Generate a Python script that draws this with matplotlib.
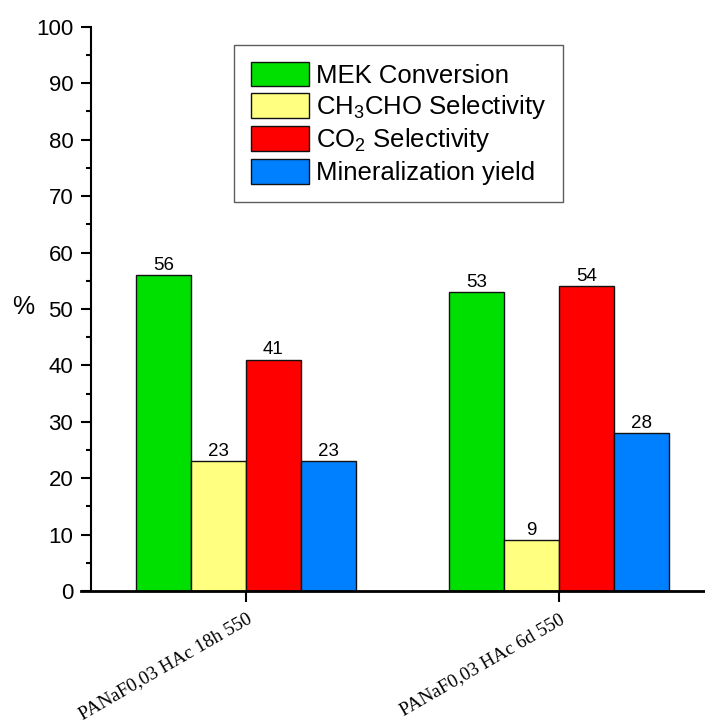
import matplotlib
matplotlib.use("Agg")
import matplotlib.pyplot as plt
import numpy as np

samples = ["PANaF0,03 HAc 18h 550", "PANaF0,03 HAc 6d 550"]
series = ["MEK Conversion", "CH$_3$CHO Selectivity", "CO$_2$ Selectivity", "Mineralization yield"]
mek_conversion = [56, 53]
ch3cho_selectivity = [23, 9]
co2_selectivity = [41, 54]
mineralization_yield = [23, 28]
colors = ["#00E000", "#FFFF80", "#FF0000", "#0080FF"]

plt.rcParams["font.family"] = ["Liberation Sans", "DejaVu Sans"]
plt.rcParams["mathtext.default"] = "regular"

fig = plt.figure(figsize=(7.05, 7.26), dpi=100)
ax = fig.add_axes([0.129, 0.186, 0.871, 0.777])

x = np.arange(1, len(samples) + 1)
width = 0.175
values = [mek_conversion, ch3cho_selectivity, co2_selectivity, mineralization_yield]
for i, (name, vals, col) in enumerate(zip(series, values, colors)):
    pos = x + (i - 1.5) * width
    bars = ax.bar(pos, vals, width, color=col, edgecolor="#111111", linewidth=1.0, label=name)
    for b, v in zip(bars, vals):
        ax.text(b.get_x() + b.get_width() / 2, v + 0.25, f"{v}", ha="center", va="bottom", fontsize=13.5)

ax.set_xlim(0.505, 2.466)
ax.set_ylim(0, 100)
ax.set_yticks(np.arange(0, 101, 10))
ax.set_yticks(np.arange(5, 100, 10), minor=True)
ax.tick_params(axis="y", which="major", length=7.2, width=1.5, labelsize=16, pad=5.5, direction="out")
ax.tick_params(axis="y", which="minor", length=3.6, width=1.5, direction="out")
ax.set_xticks(x)
ax.set_xticklabels(samples, rotation=30, ha="right", rotation_mode="anchor",
                   fontsize=13.8, family=["Liberation Serif", "DejaVu Serif"])
ax.tick_params(axis="x", which="major", length=8, width=1.5, direction="out", pad=6)

for s in ["top", "right"]:
    ax.spines[s].set_visible(False)
ax.spines["left"].set_linewidth(1.5)
ax.spines["bottom"].set_linewidth(2)
ax.spines["bottom"].set_bounds(0.473, 2.466)
ax.set_ylabel("%", rotation=0, fontsize=18, va="center", ha="center")
ax.yaxis.set_label_coords(-0.11, 0.504)

leg = ax.legend(loc="upper left", bbox_to_anchor=(234 / 705, 1 - 45 / 726),
                bbox_transform=fig.transFigure, borderaxespad=0,
                fontsize=18.5, frameon=True, fancybox=False, edgecolor="#333333",
                handlelength=2.25, handleheight=1.1, labelspacing=0.2,
                handletextpad=0.3, borderpad=0.65)
leg.get_frame().set_linewidth(1.0)
for p in leg.get_patches():
    p.set_edgecolor("#111111")

fig.savefig("out.png", dpi=100)
